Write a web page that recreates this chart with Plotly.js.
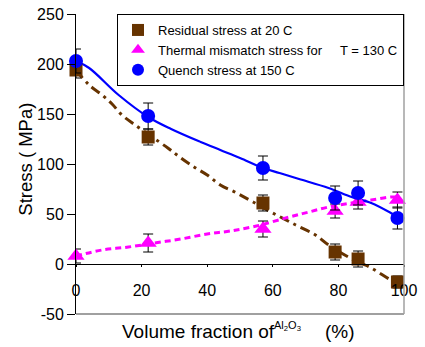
<!DOCTYPE html>
<html>
<head>
<meta charset="utf-8">
<script src="https://cdn.plot.ly/plotly-3.0.1.min.js"></script>
<style>html,body{margin:0;padding:0;background:#fff;}#chart{width:425px;height:347px;}</style>
</head>
<body>
<div id="chart"></div>
<script>
// Measured data points (volume fraction of Al2O3, %)
const volFrac = [0, 22, 57, 79, 86, 98];
const residual = [194, 127, 61, 12, 5, -18];
const residualErr = [8, 8, 8, 8, 8, 6];
const thermal = [8, 21, 35, 53, 62, 64];
const thermalErr = [7, 9, 8, 7, 7, 8];
const quench = [203, 148, 96, 66, 71, 46];
const quenchErr = [12, 13, 12, 12, 12, 11];

// Trend curves
const quenchFitX = [0, 4, 13, 22, 29, 38, 44, 50, 57, 62, 68, 77, 84, 90, 96, 98];
const quenchFitY = [203, 196, 169, 147, 135, 122, 114, 106, 96, 91, 85, 76, 67, 61, 51, 47];
const resFitX = [0, 4, 8, 11, 14, 18, 28, 32, 36, 40, 44, 49, 54, 60, 67, 73, 77, 83, 90, 96, 100];
const resFitY = [194, 179, 169, 160, 149, 139, 116, 106, 97, 89, 79, 71, 62, 51, 39, 29, 19, 7, -4, -16, -22];
const thermFitX = [0, 8, 16, 24, 32, 40, 47, 55, 65, 71, 77, 84, 90, 96, 98];
const thermFitY = [8, 14, 17, 21, 25, 30, 33, 38, 47, 52, 57, 61, 64, 67, 67];

const names = ["Residual stress at 20 C",
  "Thermal mismatch stress for\u00a0\u00a0\u00a0\u00a0\u00a0T = 130 C",
  "Quench stress at 150 C"];
const xTicks = [0, 20, 40, 60, 80, 100];
const yTicks = [-50, 0, 50, 100, 150, 200, 250];

const BROWN = "#663300", MAG = "#ff00ff", BLUE = "#0000ff";
const FONT = "'Liberation Sans', Arial, sans-serif";

const traces = [
  {x: resFitX, y: resFitY, mode: "lines", line: {color: BROWN, width: 3, dash: "10px,5px,3px,5px", shape: "spline"}, showlegend: false, hoverinfo: "skip"},
  {x: thermFitX, y: thermFitY, mode: "lines", line: {color: MAG, width: 3, dash: "6px,4px", shape: "spline"}, showlegend: false, hoverinfo: "skip"},
  {x: quenchFitX, y: quenchFitY, mode: "lines", line: {color: BLUE, width: 2.2, shape: "spline"}, showlegend: false, hoverinfo: "skip"},
  {x: volFrac, y: residual, name: names[0], mode: "markers", cliponaxis: false,
   marker: {symbol: "square", size: 13, color: BROWN},
   error_y: {type: "data", array: residualErr, visible: true, color: "#000", thickness: 1, width: 5}},
  {x: volFrac, y: thermal, name: names[1], mode: "markers", cliponaxis: false,
   marker: {symbol: "triangle-up", size: 15, color: MAG},
   error_y: {type: "data", array: thermalErr, visible: true, color: "#000", thickness: 1, width: 5}},
  {x: volFrac, y: quench, name: names[2], mode: "markers", cliponaxis: false,
   marker: {symbol: "circle", size: 14, color: BLUE},
   error_y: {type: "data", array: quenchErr, visible: true, color: "#000", thickness: 1, width: 5}}
];

const zeroPos = (0 - (-50)) / 300;

const layout = {
  width: 425, height: 347,
  margin: {l: 76, r: 21, t: 14, b: 33, pad: 0},
  paper_bgcolor: "#fff", plot_bgcolor: "#fff",
  font: {family: FONT, color: "#000"},
  showlegend: true,
  legend: {x: 1, xanchor: "right", y: 1, yanchor: "top", bgcolor: "#fff", bordercolor: "#000", borderwidth: 1,
           font: {family: FONT, size: 13, color: "#000"}, itemsizing: "constant", tracegroupgap: 0},
  xaxis: {range: [0, 100], tickvals: xTicks, ticktext: xTicks.map(String), anchor: "free", position: zeroPos,
          showline: true, linecolor: "#000", linewidth: 1, ticks: "outside", ticklen: 2, tickcolor: "#000",
          showgrid: false, zeroline: false, tickfont: {size: 16, family: FONT}, ticklabelstandoff: 10, fixedrange: true},
  xaxis2: {range: [0, 100], tickvals: xTicks, overlaying: "x", anchor: "free", position: zeroPos,
           showline: false, ticks: "inside", ticklen: 5, tickcolor: "#000", showticklabels: false, showgrid: false, zeroline: false},
  yaxis: {range: [-50, 250], tickvals: yTicks, ticktext: yTicks.map(String), showline: true, linecolor: "#000", linewidth: 1,
          ticks: "outside", ticklen: 8, tickcolor: "#000", showgrid: false, zeroline: false,
          tickfont: {size: 16, family: FONT}, fixedrange: true},
  yaxis2: {range: [-50, 250], tickvals: yTicks, overlaying: "y", side: "left", anchor: "x",
           ticks: "inside", ticklen: 4, tickcolor: "#000", showticklabels: false, showgrid: false, zeroline: false, showline: false},
  shapes: [
    {type: "line", xref: "paper", yref: "paper", x0: 0, x1: 1, y0: 0, y1: 0, line: {color: "#808080", width: 1.5}},
    {type: "line", xref: "paper", yref: "paper", x0: 1, x1: 1, y0: 0, y1: 1, line: {color: "#a0a0a0", width: 1.5}}
  ],
  annotations: [
    {text: "Stress ( MPa)", xref: "paper", yref: "paper", x: -0.155, y: 0.515, textangle: -90,
     showarrow: false, xanchor: "center", yanchor: "middle", font: {size: 18.5, family: FONT}},
    {text: "Volume fraction of", xref: "paper", yref: "paper", x: 0.3735, y: -0.058,
     showarrow: false, xanchor: "center", yanchor: "middle", font: {size: 19, family: FONT}},
    {text: "Al<sub>2</sub>O<sub>3</sub>", xref: "paper", yref: "paper", x: 0.646, y: -0.04,
     showarrow: false, xanchor: "center", yanchor: "middle", font: {size: 11, family: FONT}},
    {text: "(%)", xref: "paper", yref: "paper", x: 0.806, y: -0.058,
     showarrow: false, xanchor: "center", yanchor: "middle", font: {size: 19, family: FONT}}
  ]
};

Plotly.newPlot("chart", traces, layout, {staticPlot: true, displayModeBar: false});
</script>
</body>
</html>
